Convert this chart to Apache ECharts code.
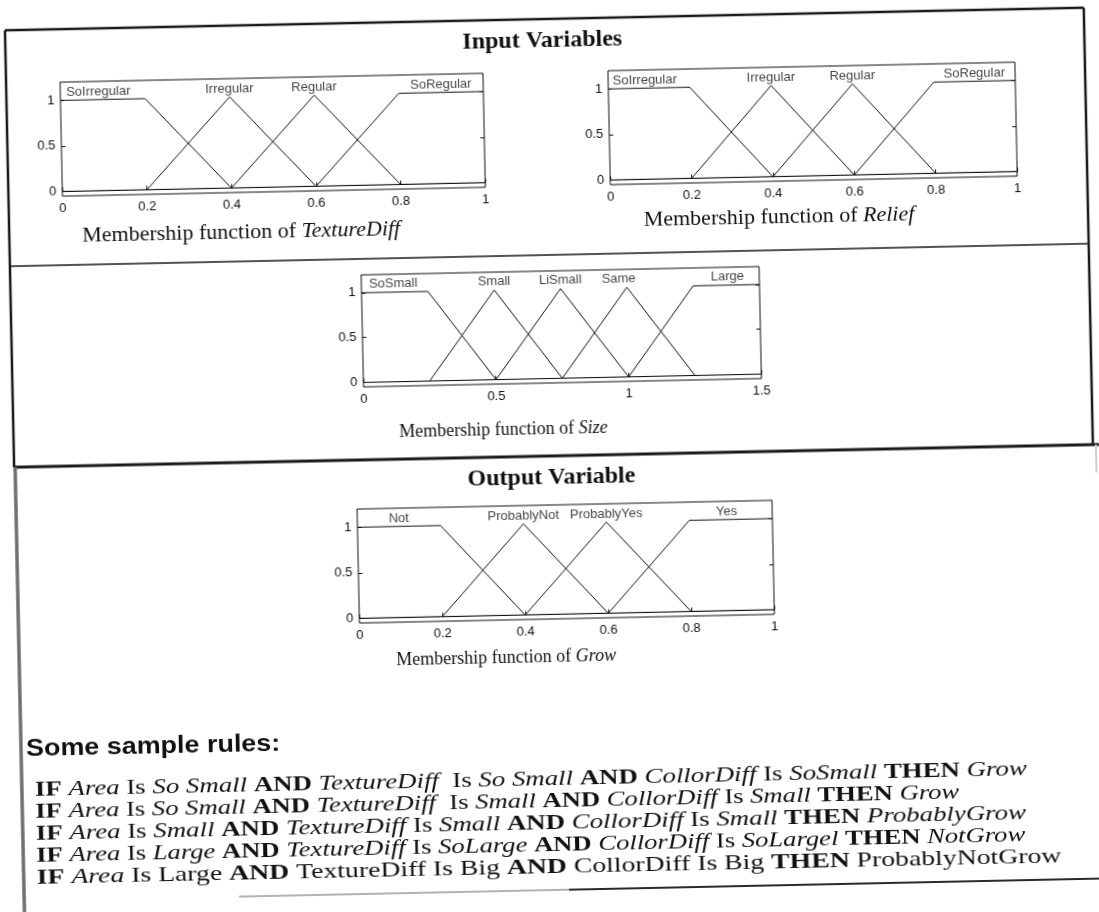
<!DOCTYPE html>
<html>
<head>
<meta charset="utf-8">
<title>Fuzzy membership functions</title>
<script src="https://cdn.jsdelivr.net/npm/echarts@6/dist/echarts.min.js"></script>
<style>
  html, body { margin: 0; padding: 0; background: #fff; overflow: hidden; }
  /* the scanned page sits slightly tilted */
  #chart { width: 1099px; height: 912px; transform: rotate(-1.2deg); transform-origin: 50% 50%; }
</style>
</head>
<body>
<div id="chart"></div>
<script>
// ---- data ----
const textureDiffNames = ['SoIrregular', 'Irregular', 'Regular', 'SoRegular'];
const textureDiffPoints = [
  [[0, 1], [0.2, 1], [0.4, 0], [1, 0]],
  [[0, 0], [0.2, 0], [0.4, 1], [0.6, 0], [1, 0]],
  [[0, 0], [0.4, 0], [0.6, 1], [0.8, 0], [1, 0]],
  [[0, 0], [0.6, 0], [0.8, 1], [1, 1]]
];
const textureDiffLabelX = [0.09, 0.4, 0.6, 0.9];

const reliefNames = ['SoIrregular', 'Irregular', 'Regular', 'SoRegular'];
const reliefPoints = [
  [[0, 1], [0.2, 1], [0.4, 0], [1, 0]],
  [[0, 0], [0.2, 0], [0.4, 1], [0.6, 0], [1, 0]],
  [[0, 0], [0.4, 0], [0.6, 1], [0.8, 0], [1, 0]],
  [[0, 0], [0.6, 0], [0.8, 1], [1, 1]]
];
const reliefLabelX = [0.09, 0.4, 0.6, 0.9];

const sizeNames = ['SoSmall', 'Small', 'LiSmall', 'Same', 'Large'];
const sizePoints = [
  [[0, 1], [0.25, 1], [0.5, 0], [1.5, 0]],
  [[0, 0], [0.25, 0], [0.5, 1], [0.75, 0], [1.5, 0]],
  [[0, 0], [0.5, 0], [0.75, 1], [1, 0], [1.5, 0]],
  [[0, 0], [0.75, 0], [1, 1], [1.25, 0], [1.5, 0]],
  [[0, 0], [1, 0], [1.25, 1], [1.5, 1]]
];
const sizeLabelX = [0.12, 0.5, 0.75, 0.97, 1.38];

const growNames = ['Not', 'ProbablyNot', 'ProbablyYes', 'Yes'];
const growPoints = [
  [[0, 1], [0.2, 1], [0.4, 0], [1, 0]],
  [[0, 0], [0.2, 0], [0.4, 1], [0.6, 0], [1, 0]],
  [[0, 0], [0.4, 0], [0.6, 1], [0.8, 0], [1, 0]],
  [[0, 0], [0.6, 0], [0.8, 1], [1, 1]]
];
const growLabelX = [0.1, 0.4, 0.6, 0.89];

const unitTicks = [0, 0.5, 1];
const labelLevel = 1.09;

// b = bold, i = italic, n = normal
const ruleLines = [
  [['b', 'IF'], ['i', 'Area'], ['n', 'Is'], ['i', 'So Small'], ['b', 'AND'], ['i', 'TextureDiff'], ['n', ' Is'], ['i', 'So Small'], ['b', 'AND'], ['i', 'CollorDiff'], ['n', 'Is'], ['i', 'SoSmall'], ['b', 'THEN'], ['i', 'Grow']],
  [['b', 'IF'], ['i', 'Area'], ['n', 'Is'], ['i', 'So Small'], ['b', 'AND'], ['i', 'TextureDiff'], ['n', ' Is'], ['i', 'Small'], ['b', 'AND'], ['i', 'CollorDiff'], ['n', 'Is'], ['i', 'Small'], ['b', 'THEN'], ['i', 'Grow']],
  [['b', 'IF'], ['i', 'Area'], ['n', 'Is'], ['i', 'Small'], ['b', 'AND'], ['i', 'TextureDiff'], ['n', 'Is'], ['i', 'Small'], ['b', 'AND'], ['i', 'CollorDiff'], ['n', 'Is'], ['i', 'Small'], ['b', 'THEN'], ['i', 'ProbablyGrow']],
  [['b', 'IF'], ['i', 'Area'], ['n', 'Is'], ['i', 'Large'], ['b', 'AND'], ['i', 'TextureDiff'], ['n', 'Is'], ['i', 'SoLarge'], ['b', 'AND'], ['i', 'CollorDiff'], ['n', 'Is'], ['i', 'SoLargel'], ['b', 'THEN'], ['i', 'NotGrow']],
  [['b', 'IF'], ['i', 'Area'], ['n', 'Is Large'], ['b', 'AND'], ['n', 'TextureDiff Is Big'], ['b', 'AND'], ['n', 'CollorDiff Is Big'], ['b', 'THEN'], ['n', 'ProbablyNotGrow']]
];
// the scan stretches each printed line a little differently
const ruleStretch = [1.22, 1.21, 1.22, 1.21, 1.26];

// ---- layout (page coordinates before the tilt) ----
const panels = [
  { names: textureDiffNames, points: textureDiffPoints, labelX: textureDiffLabelX, max: 1, interval: 0.2,
    grid: { left: 68, top: 72, width: 423, height: 114 } },
  { names: reliefNames, points: reliefPoints, labelX: reliefLabelX, max: 1, interval: 0.2,
    grid: { left: 616, top: 72, width: 407, height: 114 } },
  { names: sizeNames, points: sizePoints, labelX: sizeLabelX, max: 1.5, interval: 0.5,
    grid: { left: 365, top: 271, width: 398, height: 112 } },
  { names: growNames, points: growPoints, labelX: growLabelX, max: 1, interval: 0.2,
    grid: { left: 356, top: 505, width: 415, height: 114 } }
];

const sansFont = '"Liberation Sans", Arial, sans-serif';
const serifFont = '"Liberation Serif", "Times New Roman", serif';

const myChart = echarts.init(document.getElementById('chart'), null, { renderer: 'canvas' });

const grids = [], xAxes = [], yAxes = [], series = [];

panels.forEach((p, k) => {
  grids.push(Object.assign({ show: true, borderColor: '#111', borderWidth: 1, backgroundColor: 'transparent' }, p.grid));

  xAxes.push({
    gridIndex: k, type: 'value', min: 0, max: p.max, interval: p.interval,
    axisLine: { show: false },
    axisTick: { inside: true, length: 4, lineStyle: { color: '#111' } },
    axisLabel: { color: '#111', fontSize: 13, fontFamily: sansFont, margin: 6 },
    splitLine: { show: false }
  });

  yAxes.push({
    gridIndex: k, type: 'value', min: -0.05, max: 1.2,
    axisLine: { show: false },
    axisTick: { inside: true, length: 4, customValues: unitTicks, lineStyle: { color: '#111' } },
    axisLabel: { color: '#111', fontSize: 13, fontFamily: sansFont, margin: 6, customValues: unitTicks },
    splitLine: { show: false }
  });
  yAxes.push({
    gridIndex: k, type: 'value', min: -0.05, max: 1.2, position: 'right',
    axisLine: { show: false },
    axisTick: { inside: true, length: 4, customValues: unitTicks, lineStyle: { color: '#111' } },
    axisLabel: { show: false },
    splitLine: { show: false }
  });

  p.points.forEach((pts) => {
    series.push({
      type: 'line', xAxisIndex: k, yAxisIndex: k * 2,
      data: pts, symbol: 'none', silent: true,
      lineStyle: { color: '#111', width: 1 }
    });
  });

  series.push({
    type: 'scatter', xAxisIndex: k, yAxisIndex: k * 2,
    symbolSize: 0, silent: true,
    data: p.names.map((n, j) => ({ name: n, value: [p.labelX[j], labelLevel] })),
    label: { show: true, position: 'inside', formatter: '{b}', color: '#111', fontSize: 13, fontFamily: sansFont }
  });
});

// page frame and text
const frameColor = '#1a1a1a';
const L = 14, R = 1093, T = 19, D1 = 255, D2 = 456, B = 890;

function hline(x1, x2, y, w, c) {
  return { type: 'line', silent: true, shape: { x1: x1, y1: y, x2: x2, y2: y }, style: { stroke: c || frameColor, lineWidth: w } };
}
function vline(x, y1, y2, w, c) {
  return { type: 'line', silent: true, shape: { x1: x, y1: y1, x2: x, y2: y2 }, style: { stroke: c || frameColor, lineWidth: w } };
}

const richSerif = (size) => ({
  b: { fontFamily: serifFont, fontSize: size, fontWeight: 'bold', fill: '#111' },
  i: { fontFamily: serifFont, fontSize: size, fontStyle: 'italic', fill: '#111' },
  n: { fontFamily: serifFont, fontSize: size, fill: '#111' }
});

function textAt(x, y, text, size, align, stretch) {
  return {
    type: 'text', x: x, y: y, scaleX: stretch || 1, silent: true,
    style: {
      text: text, rich: richSerif(size),
      fontFamily: serifFont, fontSize: size, fill: '#111',
      align: align, textAlign: align, verticalAlign: 'middle', textVerticalAlign: 'middle'
    }
  };
}

const captions = [
  { x: 246, y: 226, size: 22, text: '{n|Membership function of }{i|TextureDiff}' },
  { x: 784, y: 222, size: 22, text: '{n|Membership function of }{i|Relief}' },
  { x: 504, y: 429, size: 18, text: '{n|Membership function of }{i|Size}' },
  { x: 502, y: 657, size: 18, text: '{n|Membership function of }{i|Grow}' }
];

const graphics = [
  hline(L, R, T, 2.5),
  vline(L, T, D2, 2.5),
  vline(R, T, D2, 2.5),
  hline(L, R, D1, 1.5),
  hline(L, R + 6, D2, 3),
  vline(L + 1, D2, 912, 3.5, '#6f6f6f'),
  vline(R + 3, D2, D2 + 28, 2, '#cfcfcf'),
  hline(230, 560, B, 1.5, '#9a9a9a'),
  hline(560, 1099, B, 2, '#2a2a2a'),
  textAt(551, 41, '{b|Input Variables}', 24, 'center'),
  textAt(551, 478, '{b|Output Variable}', 24, 'center'),
  {
    type: 'text', x: 20, y: 739, scaleX: 1.17, silent: true,
    style: { text: 'Some sample rules:', fontFamily: sansFont, fontSize: 23, fontWeight: 'bold', fill: '#111',
      align: 'left', textAlign: 'left', verticalAlign: 'middle', textVerticalAlign: 'middle' }
  }
];

captions.forEach(c => graphics.push(textAt(c.x, c.y, c.text, c.size, 'center')));

ruleLines.forEach((tokens, i) => {
  const text = tokens.map((t, j) => '{' + t[0] + '|' + t[1] + (j < tokens.length - 1 ? ' ' : '') + '}').join('');
  graphics.push(textAt(28, 779 + i * 22, text, 22, 'left', ruleStretch[i]));
});

const option = {
  animation: false,
  backgroundColor: '#fff',
  grid: grids,
  xAxis: xAxes,
  yAxis: yAxes,
  series: series,
  graphic: { elements: graphics }
};

myChart.setOption(option);
</script>
</body>
</html>
